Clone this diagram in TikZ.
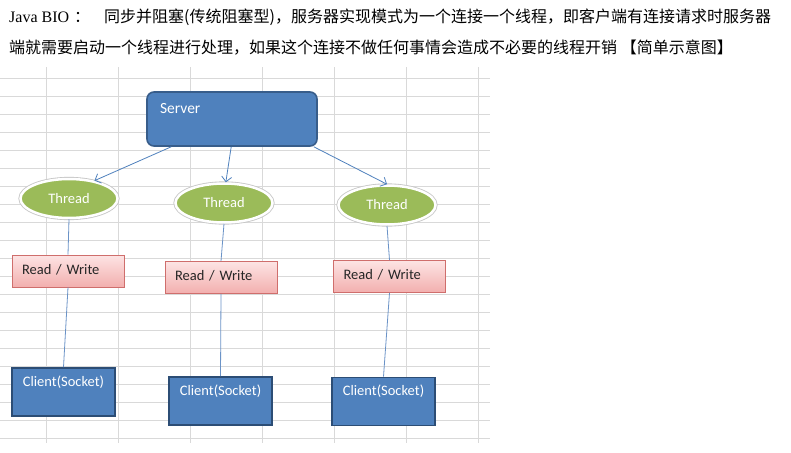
\documentclass[tikz,border=0pt]{standalone}
\usepackage{fontspec}
\setmainfont{Liberation Serif}
\newfontfamily\cjkfont{Noto Sans CJK SC}
\newfontfamily\calfont{Carlito}
\usetikzlibrary{arrows.meta,shapes.geometric,shadows,positioning}

\definecolor{srvblue}{HTML}{4F81BD}
\definecolor{srvedge}{HTML}{385D8A}
\definecolor{cliedge}{HTML}{2C4D75}
\definecolor{thrgreen}{HTML}{9BBB59}
\definecolor{rwtop}{HTML}{FDE4E4}
\definecolor{rwbot}{HTML}{F2AFAE}
\definecolor{rwedge}{HTML}{CF6E6C}
\definecolor{arrblue}{HTML}{4F81BD}
\definecolor{linkblue}{HTML}{6B93C7}
\definecolor{gridgray}{HTML}{D9D9D9}

\begin{document}
\begin{tikzpicture}[x=1pt, y=-1pt, >={Straight Barb[length=5pt,width=10pt]},
    gridline/.style={draw=gridgray, line width=0.7pt},
    cjk/.style={anchor=base west, inner sep=0pt, font=\cjkfont\fontsize{16}{19}\selectfont},
    server/.style={rectangle, rounded corners=7pt, draw=srvedge, line width=1.6pt, fill=srvblue, text=white,
      font=\calfont\fontsize{15.5}{18}\selectfont, text width=144pt, align=left,
      inner xsep=13pt, inner ysep=0pt, text height=21pt, text depth=33pt},
    thread/.style={ellipse, draw=white, line width=2.5pt, fill=thrgreen, text=white,
      font=\calfont\fontsize{14.5}{17}\selectfont, minimum width=97pt, minimum height=39pt, inner sep=0pt,
      preaction={draw=black!22, line width=4.2pt}},
    rwbox/.style={rectangle, draw=rwedge, line width=0.8pt, top color=rwtop, bottom color=rwbot, text=black!85,
      font=\calfont\fontsize{14.5}{17}\selectfont, text width=92pt, align=left,
      inner xsep=10pt, inner ysep=0pt, text height=19pt, text depth=13pt},
    client/.style={rectangle, draw=cliedge, line width=1.6pt, fill=srvblue, text=white,
      font=\calfont\fontsize{14.5}{17}\selectfont, text width=103pt, align=center,
      inner xsep=0pt, inner ysep=0pt, text height=18pt, text depth=30pt},
    arrow/.style={->, draw=arrblue, line width=0.8pt},
    link/.style={draw=linkblue, line width=0.8pt}]

    \fill[white] (0,0) rectangle (791,452);
    \useasboundingbox (0,0) rectangle (791,452);

    % header text
    \node[anchor=base west, inner sep=0pt, font=\fontsize{16}{19}\selectfont] (java) at (9,23) {Java BIO};
    \node[cjk] (colon) at (74,23) {：};
    \node[cjk] (line1) at (104,23) {同步并阻塞(传统阻塞型)，服务器实现模式为一个连接一个线程，即客户端有连接请求时服务器};
    \node[cjk] (line2) at (9,53) {端就需要启动一个线程进行处理，如果这个连接不做任何事情会造成不必要的线程开销 【简单示意图】};

    % sheet grid
    \foreach \gx in {46,118,...,478}
      \draw[gridline] (\gx,67) -- (\gx,443);
    \foreach \gy in {78,96,...,438}
      \draw[gridline] (0,\gy) -- (490,\gy);

    \node[server] (server) at (232,119) {Server};

    \node[thread] (t1) at (69,198.5) {Thread};
    \node[thread] (t2) at (224,203) {Thread};
    \node[thread] (t3) at (387,205) {Thread};

    \node[rwbox] (rw1) at (68,271) {Read / Write};
    \node[rwbox] (rw2) at (221,277.5) {Read / Write};
    \node[rwbox] (rw3) at (389.5,276.5) {Read / Write};

    \node[client] (c1) at (63.5,392) {Client(Socket)};
    \node[client] (c2) at (220.5,401) {Client(Socket)};
    \node[client] (c3) at (383.5,401.5) {Client(Socket)};

    \draw[arrow] ([xshift=25pt]server.south west) -- (t1.35);
    \draw[arrow] ([xshift=85pt]server.south west) -- (t2.85);
    \draw[arrow] ([xshift=-4pt]server.south east) -- (t3.north);

    \draw[link] (t1.south) -- (rw1.north);
    \draw[link] (t2.south) -- (rw2.north);
    \draw[link] (t3.south) -- (rw3.north);
    \draw[link] (rw1.south) -- (c1.north);
    \draw[link] (rw2.south) -- (c2.north);
    \draw[link] (rw3.south) -- (c3.north);
  \end{tikzpicture}
\end{document}
